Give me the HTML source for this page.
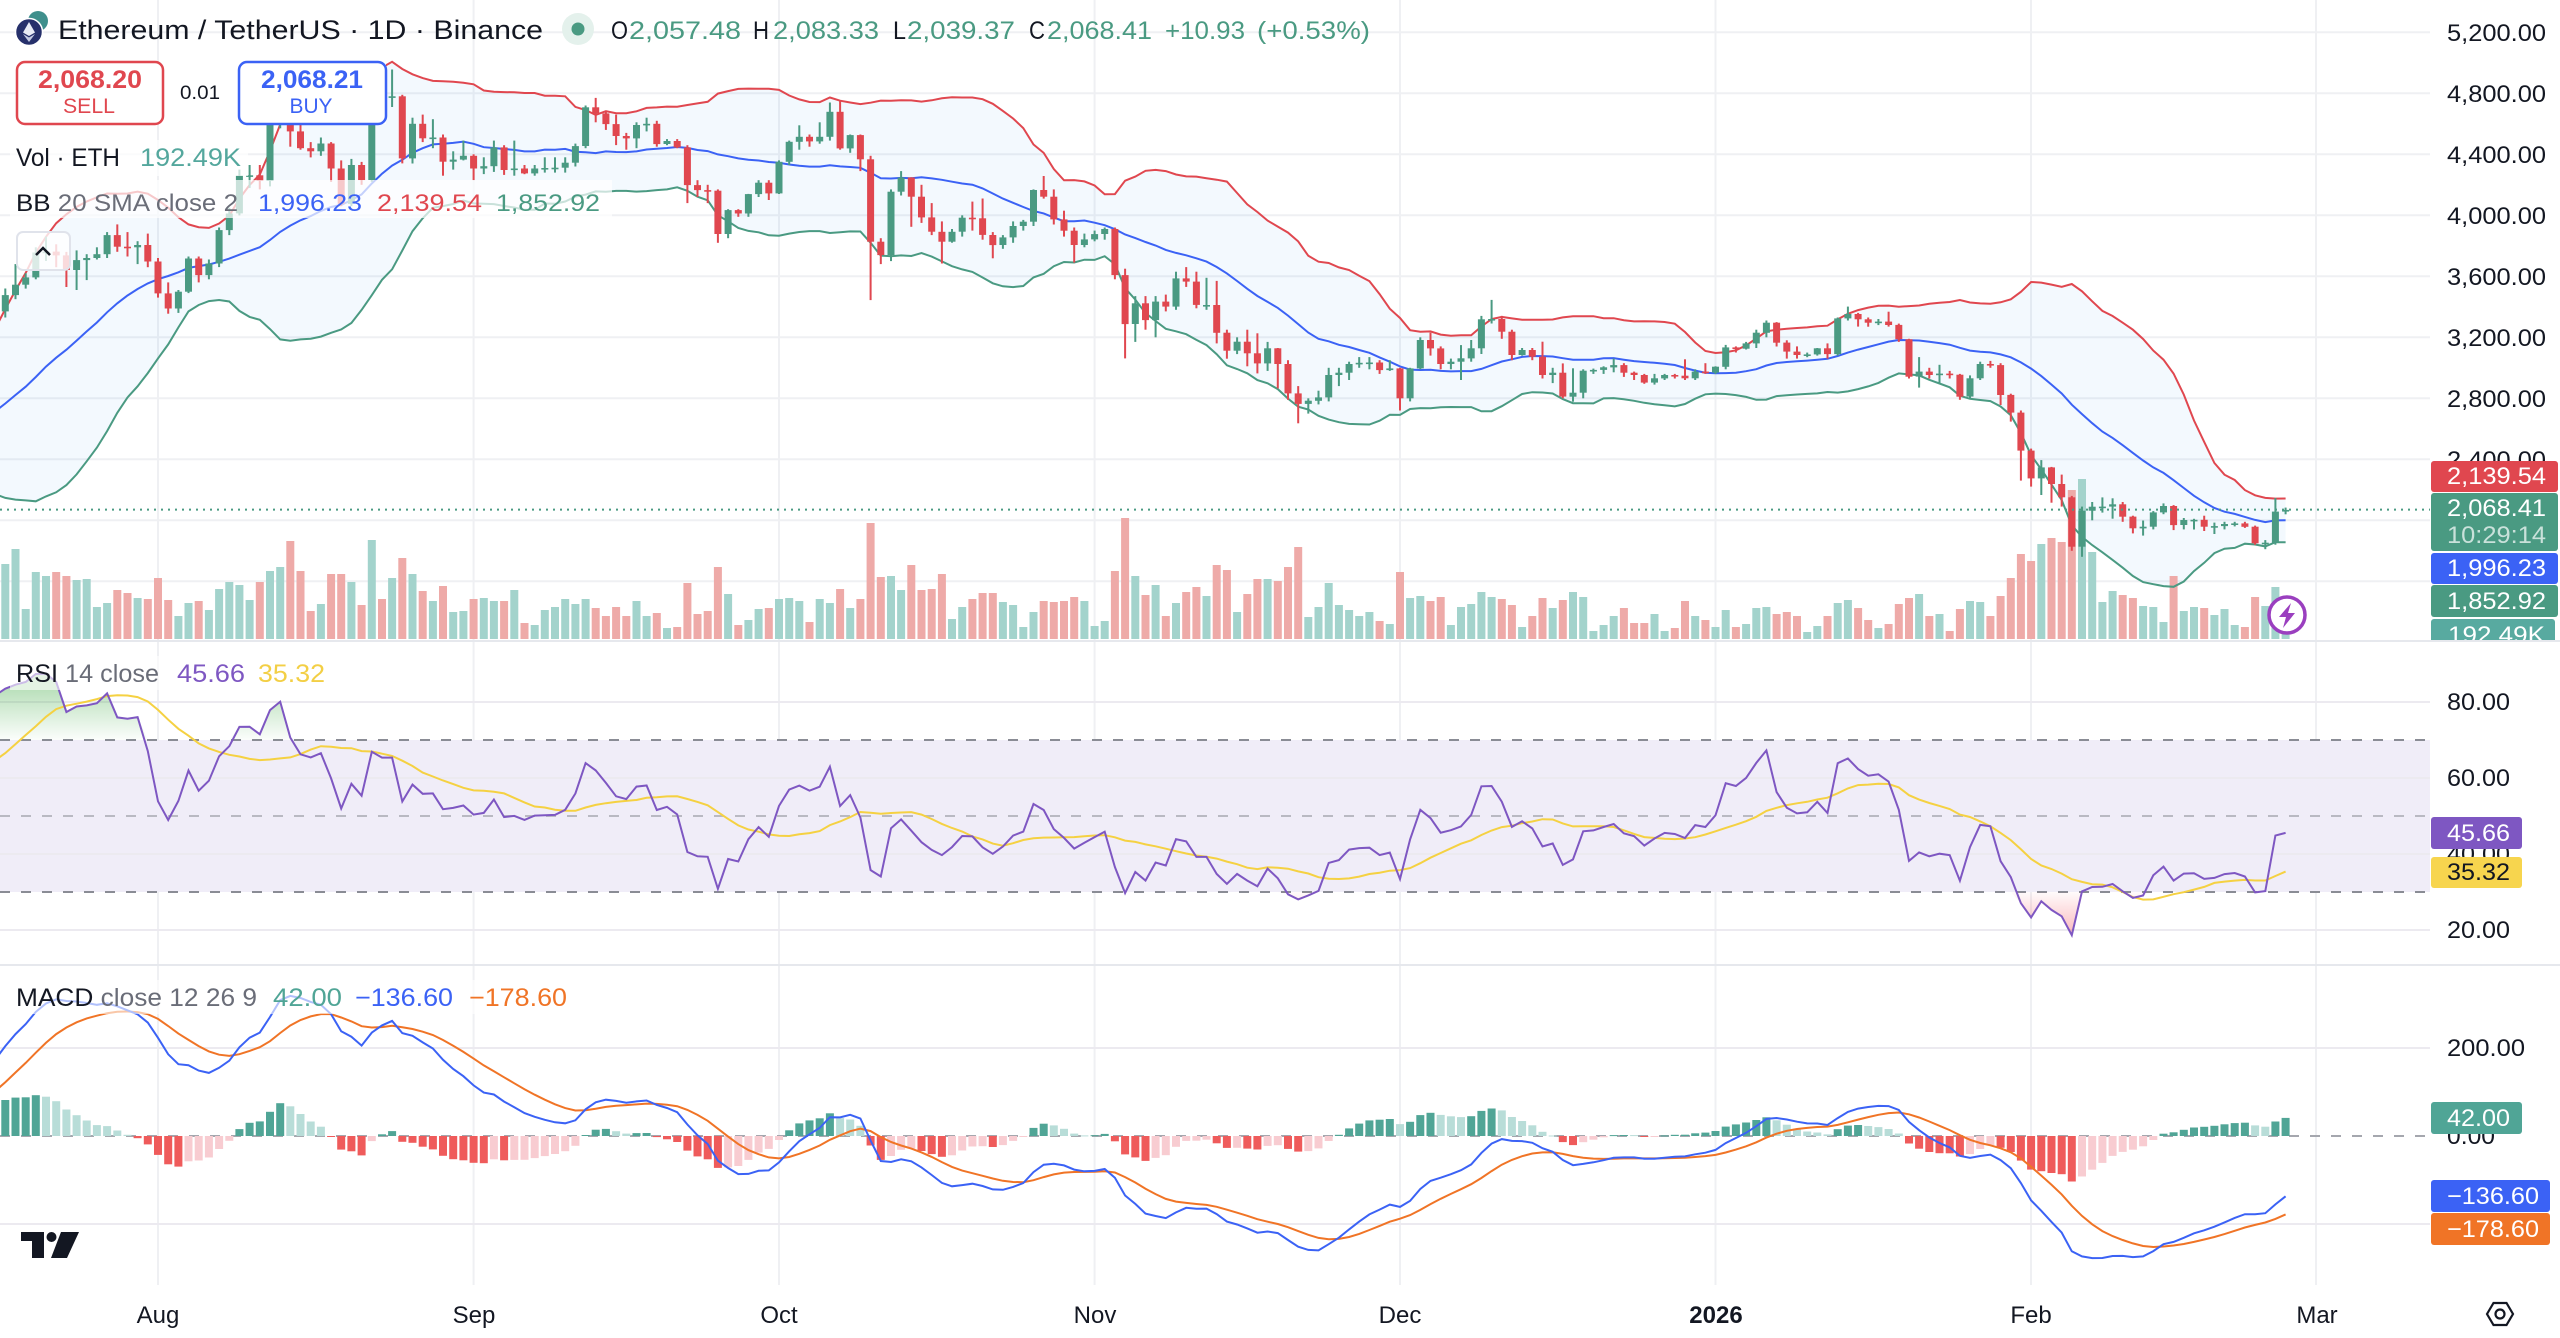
<!DOCTYPE html>
<html><head><meta charset="utf-8">
<style>
html,body{margin:0;padding:0;background:#fff;width:2560px;height:1338px;overflow:hidden;}
svg{display:block;}
text{font-family:"Liberation Sans",Arial,sans-serif;}
</style></head><body>
<svg id="c" width="2560" height="1338" viewBox="0 0 2560 1338" xmlns="http://www.w3.org/2000/svg">
<defs>
<clipPath id="cp"><rect x="0" y="0" width="2430" height="640"/></clipPath>
<clipPath id="cr"><rect x="0" y="642" width="2430" height="322"/></clipPath>
<clipPath id="cm"><rect x="0" y="966" width="2430" height="319"/></clipPath>
<clipPath id="ca"><rect x="2425" y="0" width="135" height="640"/></clipPath>
<linearGradient id="gob" gradientUnits="userSpaceOnUse" x1="0" y1="690" x2="0" y2="740"><stop offset="0" stop-color="#4caf50" stop-opacity="0.38"/><stop offset="1" stop-color="#4caf50" stop-opacity="0.02"/></linearGradient>
<linearGradient id="gos" gradientUnits="userSpaceOnUse" x1="0" y1="892" x2="0" y2="935"><stop offset="0" stop-color="#f23645" stop-opacity="0.02"/><stop offset="1" stop-color="#f23645" stop-opacity="0.35"/></linearGradient>
</defs>
<rect width="2560" height="1338" fill="#fff"/>
<!-- grid -->
<g stroke="#eff0f3" stroke-width="2">
<line x1="0" y1="32.3" x2="2430" y2="32.3"/><line x1="0" y1="93.3" x2="2430" y2="93.3"/><line x1="0" y1="154.3" x2="2430" y2="154.3"/><line x1="0" y1="215.3" x2="2430" y2="215.3"/><line x1="0" y1="276.3" x2="2430" y2="276.3"/><line x1="0" y1="337.3" x2="2430" y2="337.3"/><line x1="0" y1="398.3" x2="2430" y2="398.3"/><line x1="0" y1="459.3" x2="2430" y2="459.3"/><line x1="0" y1="520.3" x2="2430" y2="520.3"/><line x1="0" y1="581.3" x2="2430" y2="581.3"/>
<line x1="158" y1="0" x2="158" y2="1285"/><line x1="473.6" y1="0" x2="473.6" y2="1285"/><line x1="779" y1="0" x2="779" y2="1285"/><line x1="1094.6" y1="0" x2="1094.6" y2="1285"/><line x1="1400" y1="0" x2="1400" y2="1285"/><line x1="1715.5" y1="0" x2="1715.5" y2="1285"/><line x1="2031" y1="0" x2="2031" y2="1285"/><line x1="2316" y1="0" x2="2316" y2="1285"/>
</g>
<!-- RSI band -->
<rect x="0" y="740" width="2430" height="152" fill="#f0edf8"/>
<g stroke="#eceaf0" stroke-width="2">
<line x1="0" y1="702" x2="2430" y2="702"/><line x1="0" y1="778" x2="2430" y2="778"/><line x1="0" y1="854" x2="2430" y2="854"/><line x1="0" y1="930" x2="2430" y2="930"/>
<line x1="0" y1="1048" x2="2430" y2="1048"/><line x1="0" y1="1224" x2="2430" y2="1224"/>
</g>
<g stroke-width="2" stroke-dasharray="10,11">
<line x1="0" y1="740" x2="2430" y2="740" stroke="#8a8c95"/>
<line x1="0" y1="816" x2="2430" y2="816" stroke="#b9b9c2"/>
<line x1="0" y1="892" x2="2430" y2="892" stroke="#8a8c95"/>
<line x1="0" y1="1136" x2="2430" y2="1136" stroke="#a5a7ae"/>
</g>
<!-- pane separators -->
<line x1="0" y1="641" x2="2560" y2="641" stroke="#e6e8ed" stroke-width="2"/>
<line x1="0" y1="965" x2="2560" y2="965" stroke="#e6e8ed" stroke-width="2"/>

<g id="dyn"></g>

<!-- header -->
<circle cx="38" cy="21" r="10" fill="#3f8f8c"/>
<circle cx="29" cy="32" r="13.5" fill="#26306b" stroke="#fff" stroke-width="1.5"/>
<polygon points="29,22 35,32.5 29,36 23,32.5" fill="#e8ebf5"/>
<polygon points="29,37.5 35,34 29,42 23,34" fill="#c5cbe3"/>
<text x="58" y="39" font-size="27" textLength="485" lengthAdjust="spacingAndGlyphs" fill="#131722">Ethereum / TetherUS · 1D · Binance</text>
<circle cx="578" cy="29" r="16" fill="#e4f1ec"/>
<circle cx="578" cy="29" r="6.5" fill="#4a9a82"/>
<g font-size="25">
<text x="611" y="39" fill="#131722" textLength="17" lengthAdjust="spacingAndGlyphs">O</text>
<text x="629" y="39" fill="#4a9a82" textLength="112" lengthAdjust="spacingAndGlyphs">2,057.48</text>
<text x="753" y="39" fill="#131722" textLength="16" lengthAdjust="spacingAndGlyphs">H</text>
<text x="773" y="39" fill="#4a9a82" textLength="106" lengthAdjust="spacingAndGlyphs">2,083.33</text>
<text x="893" y="39" fill="#131722" textLength="13" lengthAdjust="spacingAndGlyphs">L</text>
<text x="907" y="39" fill="#4a9a82" textLength="108" lengthAdjust="spacingAndGlyphs">2,039.37</text>
<text x="1029" y="39" fill="#131722" textLength="16" lengthAdjust="spacingAndGlyphs">C</text>
<text x="1047" y="39" fill="#4a9a82" textLength="105" lengthAdjust="spacingAndGlyphs">2,068.41</text>
<text x="1165" y="39" fill="#4a9a82" textLength="80" lengthAdjust="spacingAndGlyphs">+10.93</text>
<text x="1257" y="39" fill="#4a9a82" textLength="113" lengthAdjust="spacingAndGlyphs">(+0.53%)</text>
</g>
<!-- buy/sell -->
<rect x="16" y="62" width="370" height="62" fill="#fff"/>
<rect x="17" y="62" width="146" height="62" rx="8" fill="#fff" stroke="#e0474f" stroke-width="2.5"/>
<rect x="239" y="62" width="147" height="62" rx="8" fill="#fff" stroke="#3b62f5" stroke-width="2.5"/>
<text x="90" y="88" font-size="25" font-weight="bold" fill="#e0474f" text-anchor="middle" textLength="104" lengthAdjust="spacingAndGlyphs">2,068.20</text>
<text x="89" y="113" font-size="21" fill="#e0474f" text-anchor="middle" textLength="52" lengthAdjust="spacingAndGlyphs">SELL</text>
<text x="312" y="88" font-size="25" font-weight="bold" fill="#3b62f5" text-anchor="middle" textLength="102" lengthAdjust="spacingAndGlyphs">2,068.21</text>
<text x="311" y="113" font-size="21" fill="#3b62f5" text-anchor="middle" textLength="43" lengthAdjust="spacingAndGlyphs">BUY</text>
<text x="180" y="99" font-size="19" fill="#131722" textLength="40" lengthAdjust="spacingAndGlyphs">0.01</text>
<!-- legend rows -->
<rect x="10" y="140" width="238" height="36" fill="#fff" fill-opacity="0.7"/>
<rect x="10" y="180" width="602" height="38" fill="#fff" fill-opacity="0.7"/>
<text x="16" y="166" font-size="25" fill="#131722" textLength="104" lengthAdjust="spacingAndGlyphs">Vol · ETH</text>
<text x="140" y="166" font-size="25" fill="#54a79d" textLength="101" lengthAdjust="spacingAndGlyphs">192.49K</text>
<text x="16" y="211" font-size="24" textLength="222" lengthAdjust="spacingAndGlyphs"><tspan fill="#131722">BB</tspan><tspan fill="#6a6d78"> 20 SMA close 2</tspan></text>
<text x="258" y="211" font-size="24" fill="#3b62f5" textLength="104" lengthAdjust="spacingAndGlyphs">1,996.23</text>
<text x="377" y="211" font-size="24" fill="#e0474f" textLength="105" lengthAdjust="spacingAndGlyphs">2,139.54</text>
<text x="496" y="211" font-size="24" fill="#4a9a82" textLength="104" lengthAdjust="spacingAndGlyphs">1,852.92</text>
<rect x="17" y="232" width="53" height="38" rx="6" fill="#fff" fill-opacity="0.8" stroke="#e0e3eb" stroke-width="2"/>
<polyline points="36,255 43,248 50,255" fill="none" stroke="#131722" stroke-width="2.5"/>
<!-- RSI / MACD legends -->
<rect x="10" y="656" width="325" height="34" fill="#fff" fill-opacity="0.6"/>
<text x="16" y="682" font-size="25" textLength="143" lengthAdjust="spacingAndGlyphs"><tspan fill="#131722">RSI</tspan><tspan fill="#6a6d78"> 14 close</tspan></text>
<text x="177" y="682" font-size="25" fill="#7e57c2" textLength="68" lengthAdjust="spacingAndGlyphs">45.66</text>
<text x="258" y="682" font-size="25" fill="#f3cf45" textLength="67" lengthAdjust="spacingAndGlyphs">35.32</text>
<rect x="10" y="980" width="565" height="34" fill="#fff" fill-opacity="0.6"/>
<text x="16" y="1006" font-size="25" textLength="241" lengthAdjust="spacingAndGlyphs"><tspan fill="#131722">MACD</tspan><tspan fill="#6a6d78"> close 12 26 9</tspan></text>
<text x="273" y="1006" font-size="25" fill="#50a596" textLength="69" lengthAdjust="spacingAndGlyphs">42.00</text>
<text x="355" y="1006" font-size="25" fill="#3b62f5" textLength="98" lengthAdjust="spacingAndGlyphs">−136.60</text>
<text x="469" y="1006" font-size="25" fill="#f07426" textLength="98" lengthAdjust="spacingAndGlyphs">−178.60</text>
<!-- TV logo -->
<rect x="21" y="1232" width="23" height="9" fill="#131722"/>
<rect x="32" y="1232" width="12" height="26" fill="#131722"/>
<circle cx="51.5" cy="1237" r="5" fill="#131722"/>
<polygon points="61,1232 79,1232 67,1258 51,1258" fill="#131722"/>
<!-- lightning -->
<circle cx="2287" cy="615" r="18" fill="#fff" stroke="#9a3fbf" stroke-width="3.5"/>
<polygon points="2291,603 2279,617 2286,617 2283,628 2295,613 2288,613" fill="#9a3fbf"/>
<!-- price axis -->
<g font-size="24" fill="#131722">
<text x="2447" y="41" textLength="99" lengthAdjust="spacingAndGlyphs">5,200.00</text>
<text x="2447" y="102" textLength="99" lengthAdjust="spacingAndGlyphs">4,800.00</text>
<text x="2447" y="163" textLength="99" lengthAdjust="spacingAndGlyphs">4,400.00</text>
<text x="2447" y="224" textLength="99" lengthAdjust="spacingAndGlyphs">4,000.00</text>
<text x="2447" y="285" textLength="99" lengthAdjust="spacingAndGlyphs">3,600.00</text>
<text x="2447" y="346" textLength="99" lengthAdjust="spacingAndGlyphs">3,200.00</text>
<text x="2447" y="407" textLength="99" lengthAdjust="spacingAndGlyphs">2,800.00</text>
<text x="2447" y="468" textLength="99" lengthAdjust="spacingAndGlyphs">2,400.00</text>
<text x="2447" y="710" textLength="63" lengthAdjust="spacingAndGlyphs">80.00</text>
<text x="2447" y="786" textLength="63" lengthAdjust="spacingAndGlyphs">60.00</text>
<text x="2447" y="862" textLength="63" lengthAdjust="spacingAndGlyphs">40.00</text>
<text x="2447" y="938" textLength="63" lengthAdjust="spacingAndGlyphs">20.00</text>
<text x="2447" y="1056" textLength="78" lengthAdjust="spacingAndGlyphs">200.00</text>
<text x="2447" y="1144" textLength="48" lengthAdjust="spacingAndGlyphs">0.00</text>
</g>
<g font-size="24" fill="#fff">
<rect x="2431" y="461" width="127" height="31" rx="3" fill="#e0474f"/>
<text x="2447" y="484" textLength="99" lengthAdjust="spacingAndGlyphs">2,139.54</text>
<rect x="2431" y="493" width="127" height="58" rx="3" fill="#4a9a82"/>
<text x="2447" y="516" textLength="99" lengthAdjust="spacingAndGlyphs">2,068.41</text>
<text x="2447" y="543" textLength="99" lengthAdjust="spacingAndGlyphs" fill-opacity="0.7">10:29:14</text>
<rect x="2431" y="553" width="127" height="31" rx="3" fill="#3b62f5"/>
<text x="2447" y="576" textLength="99" lengthAdjust="spacingAndGlyphs">1,996.23</text>
<rect x="2431" y="585" width="127" height="32" rx="3" fill="#4a9a82"/>
<text x="2447" y="609" textLength="99" lengthAdjust="spacingAndGlyphs">1,852.92</text>
<g clip-path="url(#ca)">
<rect x="2431" y="619" width="124" height="32" rx="3" fill="#58aaa0"/>
<text x="2448" y="643" textLength="97" lengthAdjust="spacingAndGlyphs">192.49K</text>
</g>
<rect x="2431" y="817" width="91" height="32" rx="3" fill="#7e57c2"/>
<text x="2447" y="841" textLength="63" lengthAdjust="spacingAndGlyphs">45.66</text>
<rect x="2431" y="857" width="91" height="31" rx="3" fill="#f7d54e"/>
<text x="2447" y="880" textLength="63" lengthAdjust="spacingAndGlyphs" fill="#131722">35.32</text>
<rect x="2431" y="1102" width="91" height="32" rx="3" fill="#50a596"/>
<text x="2447" y="1126" textLength="63" lengthAdjust="spacingAndGlyphs">42.00</text>
<rect x="2431" y="1180" width="119" height="32" rx="3" fill="#3b62f5"/>
<text x="2447" y="1204" textLength="92" lengthAdjust="spacingAndGlyphs">−136.60</text>
<rect x="2431" y="1213" width="119" height="32" rx="3" fill="#f07426"/>
<text x="2447" y="1237" textLength="92" lengthAdjust="spacingAndGlyphs">−178.60</text>
</g>
<!-- time axis -->
<g font-size="24" fill="#131722" text-anchor="middle">
<text x="158" y="1323">Aug</text>
<text x="474" y="1323">Sep</text>
<text x="779" y="1323">Oct</text>
<text x="1095" y="1323">Nov</text>
<text x="1400" y="1323">Dec</text>
<text x="1716" y="1323" font-weight="bold">2026</text>
<text x="2031" y="1323">Feb</text>
<text x="2317" y="1323">Mar</text>
</g>
<polygon points="2487,1314 2493.5,1303 2506.5,1303 2513,1314 2506.5,1325 2493.5,1325" fill="none" stroke="#131722" stroke-width="2.2"/>
<circle cx="2500" cy="1314" r="4.5" fill="none" stroke="#131722" stroke-width="2.2"/>
</svg>
<script>
(function(){
var W=[2520,2550,2665,2530,2530,2550,2565,2660,2680,2630,2530,2530,2540,2600,2595,2610,2420,2480,2525,2510,2680,2820,2770,2640,2580,2525,2545,2550,2510,2525,2525,2410,2295,2230,2415,2445,2420,2415,2425,2435,2500,2486,2405,2570,2590,2510,2515,2570,2540,2610,2770,2950,2960,2945,2970,3010,3140,3370];
var V=[
[3520,3330,3477],[3680,3450,3545],[3620,3520,3593],[3790,3580,3756],[3860,3700,3762],[3810,3660,3737],[3760,3530,3641],[3770,3510,3706],[3745,3575,3720],[3790,3710,3745],[3890,3720,3870],[3940,3760,3794],[3890,3730,3790],[3830,3680,3805],[3880,3660,3697],
[3720,3460,3488],[3560,3355,3389],[3510,3360,3499],[3730,3490,3717],[3730,3560,3608],[3710,3580,3684],[3920,3660,3903],[4050,3870,4012],[4300,4000,4260],[4330,4180,4262],[4330,4170,4225],[4620,4190,4592],[4780,4570,4760],[4790,4450,4550],[4680,4430,4440],[4480,4380,4420],[4510,4390,4471],[4480,4220,4307],[4360,4060,4075],[4370,4060,4330],[4350,4200,4231],[4880,4220,4830],[4880,4720,4780],[4956,4710,4780],[4790,4340,4373],[4640,4340,4600],[4660,4480,4505],[4630,4440,4510],[4530,4260,4351],[4420,4300,4365],[4490,4360,4390],
[4400,4230,4307],[4380,4270,4322],[4490,4285,4445],[4460,4265,4297],[4490,4260,4307],[4330,4270,4275],[4330,4260,4307],[4380,4280,4310],[4380,4280,4312],[4380,4280,4345],[4470,4320,4454],[4720,4440,4708],[4770,4610,4668],[4680,4560,4598],[4660,4460,4520],[4540,4430,4504],[4610,4440,4592],[4640,4550,4600],[4620,4450,4467],[4500,4460,4487],[4500,4440,4445],[4460,4080,4198],[4230,4120,4165],[4200,4080,4161],[4170,3820,3877],[4040,3850,4034],[4040,3990,4012],[4140,3990,4139],[4230,4120,4214],[4230,4100,4144],
[4360,4140,4351],[4490,4330,4482],[4590,4430,4515],[4530,4450,4485],[4610,4470,4515],[4740,4490,4679],[4750,4430,4439],[4530,4410,4526],[4530,4290,4367],[4390,3444,3827],[3850,3680,3739],[4170,3700,4155],[4290,4130,4248],[4250,3925,4122],[4200,3950,3986],[4080,3870,3892],[3960,3684,3827],[3910,3820,3892],[4000,3860,3984],[4090,3900,3980],[4110,3840,3871],[3890,3718,3805],[3870,3780,3855],[3960,3820,3930],[3970,3900,3958],[4170,3930,4166],[4258,4110,4122],[4170,3940,3973],[4030,3860,3899],[3920,3690,3805],[3880,3790,3842],
[3900,3830,3877],[3920,3840,3910],[3920,3580,3608],[3650,3062,3287],[3470,3170,3423],[3470,3250,3313],[3470,3200,3434],[3480,3370,3401],[3630,3380,3586],[3660,3530,3565],[3630,3390,3412],[3590,3380,3412],[3570,3160,3230],[3250,3060,3112],[3200,3090,3171],[3250,3010,3095],[3226,2963,3029],[3170,2980,3128],[3130,2865,3025],[3050,2790,2832],[2880,2636,2763],[2800,2700,2784],[2850,2760,2806],[3000,2780,2953],[3000,2880,2968],[3040,2920,3025],[3070,3000,3033],[3070,2990,3035],[3050,2960,2985],[3050,2980,2996],
[3000,2720,2800],[3000,2780,2996],[3200,2990,3182],[3230,3080,3127],[3140,2990,3025],[3060,2990,3040],[3149,2920,3062],[3182,3040,3128],[3340,3090,3318],[3445,3290,3320],[3340,3190,3237],[3250,3050,3084],[3130,3080,3117],[3130,3050,3073],[3171,2930,2953],[3000,2900,2968],[3029,2800,2811],[2997,2778,2837],[2990,2800,2981],[2995,2960,2986],[3010,2960,3003],[3060,2970,3018],[3030,2940,2968],[2975,2920,2953],[2960,2895,2903],[2960,2890,2931],[2960,2920,2953],[2960,2930,2948],[3056,2920,2931],[2990,2920,2975],[3030,2960,2968],
[3010,2960,3007],[3150,2990,3134],[3140,3100,3125],[3170,3120,3160],[3250,3130,3230],[3310,3200,3296],[3300,3140,3165],[3180,3060,3106],[3140,3060,3084],[3100,3070,3088],[3130,3080,3128],[3160,3060,3090],[3330,3080,3324],[3401,3310,3353],[3360,3270,3318],[3330,3270,3296],[3320,3280,3303],[3368,3270,3281],[3290,3170,3187],[3190,2930,2942],[3070,2870,2975],[3000,2930,2953],[3020,2900,2962],[2980,2930,2955],[2960,2790,2811],[2950,2800,2931],[3040,2920,3025],[3045,3000,3018],[3030,2756,2822],[2830,2647,2706],[2720,2260,2457],
[2470,2221,2275],[2395,2166,2347],[2350,2115,2238],[2300,2090,2151],[2160,1800,1827],[2090,1761,2063],[2120,2000,2089],[2150,2050,2090],[2144,2010,2105],[2120,1990,2024],[2030,1914,1947],[1999,1900,1958],[2060,1940,2052],[2111,2040,2094],[2100,1936,1969],[2015,1940,2002],[2010,1940,2003],[2030,1930,1958],[1985,1910,1962],[1990,1940,1976],[1990,1960,1980],[1990,1950,1958],[1965,1840,1849],[1870,1810,1853],[2146,1840,2057],[2083.33,2039.37,2068.41]
];
var VOL=[75,90,30,67,63,67,63,59,60,32,36,49,46,41,40,
61,39,23,36,38,29,50,57,54,39,57,68,72,98,68,28,35,65,65,57,34,99,40,61,81,65,48,38,53,27,28,
40,41,38,38,49,16,14,29,32,40,35,40,31,23,32,23,38,23,26,11,12,56,25,28,72,45,14,19,30,31,
40,41,38,17,40,36,50,31,40,116,62,63,49,74,49,50,65,20,32,40,46,46,37,34,12,27,38,37,38,42,38,
13,18,68,121,63,44,54,23,36,47,52,43,74,69,27,45,60,60,58,72,92,22,32,56,34,29,23,27,18,15,
67,41,43,38,42,14,32,35,47,42,40,34,12,23,41,31,39,47,42,8,14,23,31,16,16,25,8,11,38,23,19,
12,29,12,15,31,32,25,27,23,7,13,23,36,39,31,19,11,15,35,41,45,23,25,8,30,38,37,23,43,61,85,
78,95,101,97,149,160,87,37,48,44,41,33,32,17,63,28,32,31,24,30,14,12,42,33,52,12];
var O=[],H=[],L=[],C=[],p=2480,k;
W.forEach(function(c){O.push(p);C.push(c);H.push(Math.max(p,c));L.push(Math.min(p,c));p=c;});
V.forEach(function(v,k){var o=(k===V.length-1)?2057.48:p;O.push(o);C.push(v[2]);H.push(Math.max(v[0],o,v[2]));L.push(Math.min(v[1],o,v[2]));p=v[2];});
var n=C.length,off=W.length;
function X(i){return 158+(i-73)*10.18;}
function PY(v){return 93.3+(4800-v)*0.1525;}
function RY(v){return 930-(v-20)*3.8;}
function MY(v){return 1136-v*0.44;}
var bu=[],bm=[],bl=[],i,j;
for(i=19;i<n;i++){var s=0;for(j=i-19;j<=i;j++)s+=C[j];var m=s/20,va=0;for(j=i-19;j<=i;j++)va+=(C[j]-m)*(C[j]-m);var sd=Math.sqrt(va/20);bm[i]=m;bu[i]=m+2*sd;bl[i]=m-2*sd;}
var rsi=[],ag=0,al=0;
for(i=1;i<n;i++){var ch=C[i]-C[i-1],g=Math.max(ch,0),l=Math.max(-ch,0);
 if(i<=14){ag+=g;al+=l;if(i===14){ag/=14;al/=14;rsi[i]=al===0?100:100-100/(1+ag/al);}}
 else{ag=(ag*13+g)/14;al=(al*13+l)/14;rsi[i]=al===0?100:100-100/(1+ag/al);}}
var rma=[];for(i=27;i<n;i++){var s2=0;for(j=i-13;j<=i;j++)s2+=rsi[j];rma[i]=s2/14;}
function ema(src,len,start){var out=[],a=2/(len+1),s=0,cnt=0;for(var i=start;i<src.length;i++){if(cnt<len){s+=src[i];cnt++;if(cnt===len)out[i]=s/len;}else{out[i]=a*src[i]+(1-a)*out[i-1];}}return out;}
var e12=ema(C,12,0),e26=ema(C,26,0),macd=[];
for(i=25;i<n;i++)macd[i]=e12[i]-e26[i];
var sig=ema(macd,9,25),hist=[];
for(i=33;i<n;i++)hist[i]=macd[i]-sig[i];
var i0=55;
function pts(arr,fy){var a=[];for(var i=i0;i<n;i++)if(arr[i]!==undefined)a.push(X(i).toFixed(1)+','+fy(arr[i]).toFixed(1));return a;}
var out='<g clip-path="url(#cp)">';
var U=pts(bu,PY),LW=pts(bl,PY),M=pts(bm,PY);
out+='<polygon points="'+U.join(' ')+' '+LW.slice().reverse().join(' ')+'" fill="#2196f3" fill-opacity="0.055"/>';
for(i=i0;i<n;i++){var vv=VOL[i-off];if(vv===undefined)continue;var up=C[i]>=O[i];
 out+='<rect x="'+(X(i)-4).toFixed(1)+'" y="'+(639-vv)+'" width="8" height="'+vv+'" fill="'+(up?'#a3d3cc':'#eeaaa8')+'"/>';}
out+='<polyline points="'+U.join(' ')+'" fill="none" stroke="#e0474f" stroke-width="2"/>';
out+='<polyline points="'+LW.join(' ')+'" fill="none" stroke="#4a9a82" stroke-width="2"/>';
out+='<polyline points="'+M.join(' ')+'" fill="none" stroke="#3b62f5" stroke-width="2"/>';
for(i=i0;i<n;i++){var x=X(i);if(x<-10)continue;var up2=C[i]>=O[i];var col=up2?'#4a9a82':'#e0474f';
 var yt=PY(Math.max(O[i],C[i])),yb=PY(Math.min(O[i],C[i]));var yh=PY(H[i]),yl=PY(L[i]);
 out+='<rect x="'+(x-1).toFixed(1)+'" y="'+yh.toFixed(1)+'" width="2" height="'+(yl-yh).toFixed(1)+'" fill="'+col+'"/>';
 out+='<rect x="'+(x-3.5).toFixed(1)+'" y="'+yt.toFixed(1)+'" width="7" height="'+Math.max(yb-yt,1.6).toFixed(1)+'" fill="'+col+'"/>';}
out+='<line x1="0" y1="509.6" x2="2430" y2="509.6" stroke="#4a9a82" stroke-width="2" stroke-dasharray="2,5"/>';
out+='</g>';
// RSI
out+='<g clip-path="url(#cr)">';
var ob=[],os=[];
for(i=i0;i<n;i++){if(rsi[i]===undefined)continue;var ry=RY(rsi[i]);ob.push(X(i).toFixed(1)+','+Math.min(ry,740).toFixed(1));os.push(X(i).toFixed(1)+','+Math.max(ry,892).toFixed(1));}
out+='<polygon points="'+X(i0).toFixed(1)+',740 '+ob.join(' ')+' '+X(n-1).toFixed(1)+',740" fill="url(#gob)"/>';
out+='<polygon points="'+X(i0).toFixed(1)+',892 '+os.join(' ')+' '+X(n-1).toFixed(1)+',892" fill="url(#gos)"/>';
out+='<polyline points="'+pts(rma,RY).join(' ')+'" fill="none" stroke="#f5d142" stroke-width="2"/>';
out+='<polyline points="'+pts(rsi,RY).join(' ')+'" fill="none" stroke="#7e57c2" stroke-width="2"/>';
out+='</g>';
// MACD
out+='<g clip-path="url(#cm)">';
for(i=i0;i<n;i++){if(hist[i]===undefined)continue;var h=hist[i],hp=hist[i-1]===undefined?h:hist[i-1];var c2;
 if(h>=0)c2=(hp<h)?'#50a596':'#b8ddd8';else c2=(hp<h)?'#f8ccd1':'#ef5b5b';
 var y1=MY(h);var top=Math.min(y1,1136),ht=Math.abs(y1-1136);
 out+='<rect x="'+(X(i)-4).toFixed(1)+'" y="'+top.toFixed(1)+'" width="8" height="'+Math.max(ht,1).toFixed(1)+'" fill="'+c2+'"/>';}
out+='<polyline points="'+pts(sig,MY).join(' ')+'" fill="none" stroke="#f07426" stroke-width="2"/>';
out+='<polyline points="'+pts(macd,MY).join(' ')+'" fill="none" stroke="#3b62f5" stroke-width="2"/>';
out+='</g>';
document.getElementById('dyn').innerHTML=out;
})();
</script>
</body></html>
